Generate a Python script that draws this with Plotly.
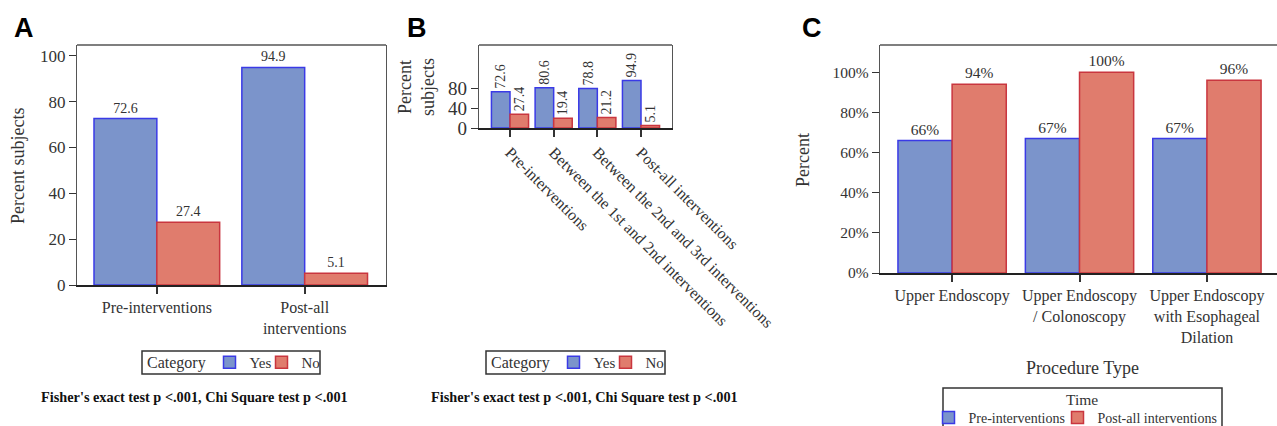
import plotly.graph_objects as go

# ---- data ----
a_categories = ["Pre-interventions", "Post-all<br>interventions"]
a_yes = [72.6, 94.9]
a_no = [27.4, 5.1]

b_categories = ["Pre-interventions", "Between the 1st and 2nd interventions",
                "Between the 2nd and 3rd interventions", "Post-all interventions"]
b_yes = [72.6, 80.6, 78.8, 94.9]
b_no = [27.4, 19.4, 21.2, 5.1]

c_categories = ["Upper Endoscopy", "Upper Endoscopy<br>/ Colonoscopy",
                "Upper Endoscopy<br>with Esophageal<br>Dilation"]
c_pre = [66, 67, 67]
c_post = [94, 100, 96]

a_ticks = [0, 20, 40, 60, 80, 100]
b_ticks = [0, 40, 80]
c_ticks = [0, 20, 40, 60, 80, 100]
c_ticklabels = ["0%", "20%", "40%", "60%", "80%", "100%"]

footnote = "Fisher's exact test p <.001, Chi Square test p <.001"

# ---- styles ----
W, H = 1277, 426
BLUE_FILL, BLUE_LINE = "#7b94cb", "#3a3ae6"
RED_FILL, RED_LINE = "#e07c6d", "#c9363f"
SERIF = "Liberation Serif"
SANS = "Liberation Sans"
TXT = "#333333"
FRAME = "#555555"

def px_x(p):
    return p / W

def px_y(p):
    return 1 - p / H

fig = go.Figure()

def bar(x, y, name, fill, line, text, xa, ya, leg, size, angle=None):
    kw = dict(x=x, y=y, name=name, marker=dict(color=fill, line=dict(color=line, width=1.5)),
              text=text, textposition="outside", constraintext="none",
              textfont=dict(family=SERIF, size=size, color=TXT), cliponaxis=False,
              xaxis=xa, yaxis=ya, legend=leg, showlegend=True)
    if angle is not None:
        kw["textangle"] = angle
    return go.Bar(**kw)

# Panel A
fig.add_trace(bar(a_categories, a_yes, "Yes", BLUE_FILL, BLUE_LINE, [f"{v:.1f}" for v in a_yes], "x", "y", "legend", 14))
fig.add_trace(bar(a_categories, a_no, "No", RED_FILL, RED_LINE, [f"{v:.1f}" for v in a_no], "x", "y", "legend2", 14))
# Panel B
fig.add_trace(bar(b_categories, b_yes, "Yes", BLUE_FILL, BLUE_LINE, [f"{v:.1f}" for v in b_yes], "x2", "y2", "legend3", 14, -90))
fig.add_trace(bar(b_categories, b_no, "No", RED_FILL, RED_LINE, [f"{v:.1f}" for v in b_no], "x2", "y2", "legend4", 14, -90))
# Panel C
fig.add_trace(bar(c_categories, c_pre, "Pre-interventions", BLUE_FILL, BLUE_LINE, [f"{v}%" for v in c_pre], "x3", "y3", "legend5", 15.5))
fig.add_trace(bar(c_categories, c_post, "Post-all interventions", RED_FILL, RED_LINE, [f"{v}%" for v in c_post], "x3", "y3", "legend6", 15.5))

common_x = dict(type="category", showline=True, linecolor="#222222", linewidth=2, mirror=False, automargin=False,
                ticks="outside", ticklen=7, tickcolor="#333333", tickwidth=1.5, showgrid=False, zeroline=False)
common_y = dict(showline=True, linecolor=FRAME, linewidth=1.3, ticks="outside", ticklen=7, tickcolor="#333333",
                tickwidth=1.3, showgrid=False, zeroline=False, automargin=False)

def leg(symbol_cx, cy, size):
    return dict(orientation="h", xref="container", yref="container", borderwidth=0, visible=True,
                bgcolor="rgba(0,0,0,0)", itemwidth=30, tracegroupgap=0,
                x=px_x(symbol_cx - 19.5), xanchor="left", y=px_y(cy), yanchor="middle",
                font=dict(family=SERIF, size=size, color=TXT))

fig.update_layout(
    width=W, height=H, margin=dict(l=0, r=0, t=0, b=0, autoexpand=False),
    paper_bgcolor="white", plot_bgcolor="white", showlegend=True,
    barmode="group", bargap=0.15, bargroupgap=0,
    font=dict(family=SERIF, color=TXT),
    xaxis=dict(common_x, domain=[px_x(77), px_x(386)], anchor="y", range=[-0.54, 1.55], tickangle=0,
               tickfont=dict(family=SERIF, size=16, color=TXT)),
    yaxis=dict(common_y, domain=[px_y(285), px_y(45)], anchor="x", range=[0, 104.7], tickvals=a_ticks,
               mirror=True, tickfont=dict(family=SERIF, size=17, color=TXT)),
    xaxis2=dict(common_x, domain=[px_x(479), px_x(672)], anchor="y2", range=[-0.71, 3.71], tickangle=45,
                tickfont=dict(family=SERIF, size=16, color=TXT)),
    yaxis2=dict(common_y, domain=[px_y(128), px_y(45)], anchor="x2", range=[0, 166], tickvals=b_ticks,
                mirror=True, tickfont=dict(family=SERIF, size=19, color=TXT)),
    xaxis3=dict(common_x, domain=[px_x(880), 1.0], anchor="y3", range=[-0.566, 2.55], tickangle=0,
                tickfont=dict(family=SERIF, size=16, color=TXT)),
    yaxis3=dict(common_y, domain=[px_y(273), px_y(45)], anchor="x3", range=[0, 113.6], tickvals=c_ticks,
                ticktext=c_ticklabels, mirror=False, tickfont=dict(family=SERIF, size=15.5, color=TXT)),
    legend=leg(229, 362.5, 15),
    legend2=leg(281, 362.5, 15),
    legend3=leg(573, 362.5, 15),
    legend4=leg(625, 362.5, 15),
    legend5=leg(948, 418, 14),
    legend6=leg(1077, 418, 14),
)

# top frame lines for each panel
for xa, ya in [("x", "y"), ("x2", "y2"), ("x3", "y3")]:
    fig.add_shape(type="line", xref=f"{xa} domain", yref=f"{ya} domain", x0=0, x1=1, y0=1, y1=1,
                  line=dict(color=FRAME, width=1.3))

# legend boxes
for x0, x1, y0, y1 in [(142, 320, 351, 374), (486, 665, 351, 374), (943, 1222, 388, 440)]:
    fig.add_shape(type="rect", xref="paper", yref="paper", x0=px_x(x0), x1=px_x(x1), y0=px_y(y1), y1=px_y(y0),
                  line=dict(color="#333333", width=1.5), fillcolor="rgba(0,0,0,0)", layer="below")

def text(cx, cy, t, angle=0, size=18, anchor="center", family=SERIF, color=TXT):
    fig.add_annotation(x=px_x(cx), y=px_y(cy), xref="paper", yref="paper", text=t, textangle=angle,
                       showarrow=False, xanchor=anchor, yanchor="middle",
                       font=dict(family=family, size=size, color=color))

# legend titles
text(145, 362.5, "Category", size=16, anchor="left")
text(489, 362.5, "Category", size=16, anchor="left")
text(1082, 399, "Time", size=15.5)

# axis titles
text(18, 166, "Percent subjects", -90)
text(417, 87, "Percent<br>subjects", -90)
text(803, 160, "Percent", -90)
text(1082, 368, "Procedure Type", 0)

# footnotes
for cx in [194, 584]:
    text(cx, 397, f"<b>{footnote}</b>", size=14.3, color="#111111")

# panel letters
for cx, letter in [(24, "A"), (417, "B"), (812, "C")]:
    text(cx, 28, f"<b>{letter}</b>", size=27, family=SANS, color="black")

fig.write_html("out.html", config={"displayModeBar": False},
               post_script="document.body.style.margin='0';document.body.style.overflow='hidden';")
